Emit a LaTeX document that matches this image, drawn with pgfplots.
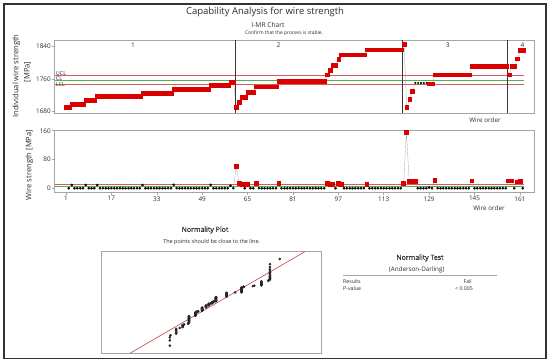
\documentclass[border=0pt]{standalone}
\usepackage{pgfplots}
\usepackage{pgfplotstable}
\pgfplotsset{compat=1.18}
\usepackage{fontspec}
\setmainfont{Open Sans}
\newfontface\sbf[FakeBold=0.6]{Open Sans}
\definecolor{mtred}{RGB}{218,0,0}
\definecolor{limred}{RGB}{205,95,95}
\definecolor{limgreen}{RGB}{85,175,85}
\definecolor{boxgray}{RGB}{165,165,165}
\definecolor{txt}{RGB}{45,45,45}
\definecolor{stagecol}{RGB}{55,55,55}
\definecolor{normline}{RGB}{190,70,70}
\newcommand{\fs}[1]{\fontsize{#1}{#1}\selectfont}

\pgfplotstableread[row sep=\\]{
obs ind ic mr mc\\
1 1690 r nan k\\ 2 1690 r 0 k\\ 3 1699 r 9 k\\ 4 1699 r 0 k\\ 5 1699 r 0 k\\ 6 1699 r 0 k\\ 7 1699 r 0 k\\
8 1708 r 9 k\\ 9 1708 r 0 k\\ 10 1708 r 0 k\\ 11 1708 r 0 k\\
12 1717 r 9 k\\ 13 1717 r 0 k\\ 14 1717 r 0 k\\ 15 1717 r 0 k\\ 16 1717 r 0 k\\ 17 1717 r 0 k\\ 18 1717 r 0 k\\ 19 1717 r 0 k\\
20 1717 r 0 k\\ 21 1717 r 0 k\\ 22 1717 r 0 k\\ 23 1717 r 0 k\\ 24 1717 r 0 k\\ 25 1717 r 0 k\\ 26 1717 r 0 k\\ 27 1717 r 0 k\\
28 1726 r 9 k\\ 29 1726 r 0 k\\ 30 1726 r 0 k\\ 31 1726 r 0 k\\ 32 1726 r 0 k\\ 33 1726 r 0 k\\ 34 1726 r 0 k\\ 35 1726 r 0 k\\
36 1726 r 0 k\\ 37 1726 r 0 k\\ 38 1726 r 0 k\\
39 1735.5 r 9.5 k\\ 40 1735.5 r 0 k\\ 41 1735.5 r 0 k\\ 42 1735.5 r 0 k\\ 43 1735.5 r 0 k\\ 44 1735.5 r 0 k\\ 45 1735.5 r 0 k\\
46 1735.5 r 0 k\\ 47 1735.5 r 0 k\\ 48 1735.5 r 0 k\\ 49 1735.5 r 0 k\\ 50 1735.5 r 0 k\\ 51 1735.5 r 0 k\\
52 1745 r 9.5 k\\ 53 1745 r 0 k\\ 54 1745 r 0 k\\ 55 1745 r 0 k\\ 56 1745 r 0 k\\ 57 1745 r 0 k\\ 58 1745 r 0 k\\
59 1752 r 7 k\\ 60 1752 r 0 k\\
61 1691 r 61 r\\ 62 1704 r 13 r\\ 63 1716 r 12 r\\ 64 1716 r 0 k\\ 65 1728 r 12 r\\ 66 1728 r 0 k\\ 67 1728 r 0 k\\
68 1741 r 13 r\\ 69 1741 r 0 k\\ 70 1741 r 0 k\\ 71 1741 r 0 k\\ 72 1741 r 0 k\\ 73 1741 r 0 k\\ 74 1741 r 0 k\\ 75 1741 r 0 k\\
76 1755 r 14 r\\ 77 1755 r 0 k\\ 78 1755 r 0 k\\ 79 1755 r 0 k\\ 80 1755 r 0 k\\ 81 1755 r 0 k\\ 82 1755 r 0 k\\ 83 1755 r 0 k\\
84 1755 r 0 k\\ 85 1755 r 0 k\\ 86 1755 r 0 k\\ 87 1755 r 0 k\\ 88 1755 r 0 k\\ 89 1755 r 0 k\\ 90 1755 r 0 k\\ 91 1755 r 0 k\\ 92 1755 r 0 k\\
93 1770 r 15 r\\ 94 1782 r 12 r\\ 95 1794 r 12 r\\ 96 1794 r 0 k\\ 97 1807 r 13 r\\
98 1819 r 12 r\\ 99 1819 r 0 k\\ 100 1819 r 0 k\\ 101 1819 r 0 k\\ 102 1819 r 0 k\\ 103 1819 r 0 k\\ 104 1819 r 0 k\\ 105 1819 r 0 k\\ 106 1819 r 0 k\\
107 1831 r 12 r\\ 108 1831 r 0 k\\ 109 1831 r 0 k\\ 110 1831 r 0 k\\ 111 1831 r 0 k\\ 112 1831 r 0 k\\ 113 1831 r 0 k\\
114 1831 r 0 k\\ 115 1831 r 0 k\\ 116 1831 r 0 k\\ 117 1831 r 0 k\\ 118 1831 r 0 k\\ 119 1831 r 0 k\\
120 1845 r 14 r\\ 121 1690 r 155 r\\ 122 1710 r 20 r\\ 123 1730 r 20 r\\
124 1750 k 20 r\\ 125 1750 k 0 k\\ 126 1750 k 0 k\\ 127 1750 k 0 k\\ 128 1750 k 0 k\\ 129 1748 r 2 k\\ 130 1748 r 0 k\\
131 1770 r 22 r\\ 132 1770 r 0 k\\ 133 1770 r 0 k\\ 134 1770 r 0 k\\ 135 1770 r 0 k\\ 136 1770 r 0 k\\ 137 1770 r 0 k\\
138 1770 r 0 k\\ 139 1770 r 0 k\\ 140 1770 r 0 k\\ 141 1770 r 0 k\\ 142 1770 r 0 k\\ 143 1770 r 0 k\\
144 1791 r 21 r\\ 145 1791 r 0 k\\ 146 1791 r 0 k\\ 147 1791 r 0 k\\ 148 1791 r 0 k\\ 149 1791 r 0 k\\ 150 1791 r 0 k\\
151 1791 r 0 k\\ 152 1791 r 0 k\\ 153 1791 r 0 k\\ 154 1791 r 0 k\\ 155 1791 r 0 k\\ 156 1791 r 0 k\\
157 1770 r 21 r\\ 158 1791 r 21 r\\ 159 1791 r 0 k\\ 160 1809 r 18 r\\ 161 1829 r 20 r\\ 162 1829 r 0 k\\
}\imr

\pgfplotstableread[row sep=\\]{
v z\\
1690 -2.626\\ 1690 -2.309\\ 1690 -2.129\\ 1691 -2.000\\
1699 -1.897\\ 1699 -1.810\\ 1699 -1.736\\ 1699 -1.670\\ 1699 -1.611\\
1704 -1.557\\ 1708 -1.507\\ 1708 -1.461\\ 1708 -1.418\\ 1708 -1.377\\ 1710 -1.338\\ 1716 -1.301\\ 1716 -1.266\\
1717 -1.232\\ 1717 -1.199\\ 1717 -1.168\\ 1717 -1.138\\ 1717 -1.109\\ 1717 -1.081\\ 1717 -1.054\\ 1717 -1.027\\
1717 -1.002\\ 1717 -0.977\\ 1717 -0.952\\ 1717 -0.928\\ 1717 -0.904\\ 1717 -0.881\\ 1717 -0.859\\ 1717 -0.837\\
1726 -0.815\\ 1726 -0.794\\ 1726 -0.773\\ 1726 -0.752\\ 1726 -0.732\\ 1726 -0.712\\ 1726 -0.692\\ 1726 -0.673\\
1726 -0.653\\ 1726 -0.634\\ 1726 -0.615\\
1728 -0.597\\ 1728 -0.579\\ 1728 -0.560\\ 1730 -0.543\\
1735.5 -0.525\\ 1735.5 -0.507\\ 1735.5 -0.490\\ 1735.5 -0.473\\ 1735.5 -0.455\\ 1735.5 -0.438\\ 1735.5 -0.421\\
1735.5 -0.405\\ 1735.5 -0.388\\ 1735.5 -0.371\\ 1735.5 -0.355\\ 1735.5 -0.338\\ 1735.5 -0.322\\
1741 -0.306\\ 1741 -0.289\\ 1741 -0.273\\ 1741 -0.257\\ 1741 -0.241\\ 1741 -0.225\\ 1741 -0.210\\ 1741 -0.194\\
1745 -0.178\\ 1745 -0.163\\ 1745 -0.147\\ 1745 -0.132\\ 1745 -0.116\\ 1745 -0.101\\ 1745 -0.085\\
1748 -0.070\\ 1748 -0.054\\
1750 -0.039\\ 1750 -0.023\\ 1750 -0.008\\ 1750 0.008\\ 1750 0.023\\ 1752 0.039\\ 1752 0.054\\
1755 0.070\\ 1755 0.085\\ 1755 0.101\\ 1755 0.116\\ 1755 0.132\\ 1755 0.147\\ 1755 0.163\\ 1755 0.178\\ 1755 0.194\\
1755 0.210\\ 1755 0.225\\ 1755 0.241\\ 1755 0.257\\ 1755 0.273\\ 1755 0.289\\ 1755 0.306\\ 1755 0.322\\
1770 0.338\\ 1770 0.355\\ 1770 0.371\\ 1770 0.388\\ 1770 0.405\\ 1770 0.421\\ 1770 0.438\\ 1770 0.455\\
1770 0.473\\ 1770 0.490\\ 1770 0.507\\ 1770 0.525\\ 1770 0.543\\ 1770 0.560\\ 1770 0.579\\
1782 0.597\\
1791 0.615\\ 1791 0.634\\ 1791 0.653\\ 1791 0.673\\ 1791 0.692\\ 1791 0.712\\ 1791 0.732\\ 1791 0.752\\
1791 0.773\\ 1791 0.794\\ 1791 0.815\\ 1791 0.837\\ 1791 0.859\\ 1791 0.881\\ 1791 0.904\\
1794 0.928\\ 1794 0.952\\ 1807 0.977\\ 1809 1.002\\
1819 1.027\\ 1819 1.054\\ 1819 1.081\\ 1819 1.109\\ 1819 1.138\\ 1819 1.168\\ 1819 1.199\\ 1819 1.232\\ 1819 1.266\\
1829 1.301\\ 1829 1.338\\
1831 1.377\\ 1831 1.418\\ 1831 1.461\\ 1831 1.507\\ 1831 1.557\\ 1831 1.611\\ 1831 1.670\\ 1831 1.736\\
1831 1.810\\ 1831 1.897\\ 1831 2.000\\ 1831 2.129\\ 1831 2.309\\
1845 2.626\\
}\norm

\pgfplotsset{
  mtaxis/.style={
    scale only axis, anchor=south west,
    axis line style={draw=boxgray, line width=0.8pt},
    tick style={draw=boxgray, line width=0.5pt},
    tick align=outside, major tick length=2.5pt,
    xtick pos=bottom, ytick pos=left,
    ticklabel style={font=\fs{6.4}, text=txt, inner sep=1pt},
    /pgf/number format/assume math mode=true,
    /pgf/number format/1000 sep={},
    xmin=-3.05, xmax=165.97,
  },
  imrpts/.style={scatter, only marks, scatter src=explicit symbolic,
    scatter/classes={
      r={mark=square*, mark size=1.9pt, draw=mtred, fill=mtred},
      k={mark=*, mark size=#1, draw=black, fill=black}}},
}

\begin{document}
\begin{tikzpicture}[x=1pt,y=1pt]
\path (0pt,0pt) rectangle (550pt,363pt);
\draw[line width=1.3pt, draw=black!80] (4pt,4.5pt) rectangle (546pt,359pt);

% titles
\node[font=\fs{9.5}, text=txt] at (265pt,351pt) {Capability Analysis for wire strength};
\node[font=\fs{6.7}, text=txt] at (268pt,338pt) {I-MR Chart};
\node[font=\fs{4.9}, text=txt] at (284pt,329.5pt) {Confirm that the process is stable.};

% I chart
\begin{axis}[mtaxis, at={(54.5pt,249.5pt)}, width=480pt, height=73.5pt,
  ymin=1675.6, ymax=1854.7, ytick={1680,1760,1840}, xtick=\empty]
\addplot[draw=gray!60, line width=0.35pt] table[x=obs,y=ind]{\imr};
\addplot[limred, line width=0.7pt] coordinates {(-2.8,1767.5) (162.4,1767.5)};
\addplot[limgreen, line width=0.7pt] coordinates {(-2.8,1757.5) (162.4,1757.5)};
\addplot[limred, line width=0.7pt] coordinates {(-2.8,1746.5) (162.4,1746.5)};
\addplot[stagecol, line width=0.9pt] coordinates {(60.5,1675.6) (60.5,1854.7)};
\addplot[stagecol, line width=0.9pt] coordinates {(119.5,1675.6) (119.5,1854.7)};
\addplot[stagecol, line width=0.9pt] coordinates {(156.5,1675.6) (156.5,1854.7)};
\addplot[imrpts=0.8pt] table[x=obs, y=ind, meta=ic]{\imr};
\node[font=\fs{6.5}, text=txt] at (axis cs:24.6,1842) {1};
\node[font=\fs{6.5}, text=txt] at (axis cs:75.8,1842) {2};
\node[font=\fs{6.5}, text=txt] at (axis cs:135.4,1842) {3};
\node[font=\fs{6.5}, text=txt] at (axis cs:161.7,1842) {4};
\node[font=\fs{5.5}, text=txt, anchor=west, inner sep=0pt] at (axis cs:-2.6,1773.7) {UCL};
\node[font=\fs{5.5}, text=txt, anchor=west, inner sep=0pt] at (axis cs:-2.6,1761.5) {CL};
\node[font=\fs{5.5}, text=txt, anchor=west, inner sep=0pt] at (axis cs:-2.6,1746.8) {LCL};
\end{axis}
\node[font=\fs{6.3}, text=txt] at (485pt,243pt) {Wire order};
\node[font=\fs{7.6}, text=txt, rotate=90] at (16.5pt,287pt) {Individual wire strength};
\node[font=\fs{7.6}, text=txt, rotate=90] at (27.5pt,291pt) {[MPa]};

% MR chart
\begin{axis}[mtaxis, at={(54.5pt,170.3pt)}, width=479.5pt, height=62.7pt,
  ymin=-12.4, ymax=162, ytick={0,80,160}, xtick={1,17,...,161}]
\addplot[draw=gray!60, line width=0.35pt] table[x=obs,y=mr]{\imr};
\addplot[limred, line width=0.7pt] coordinates {(-2.8,10.2) (162.4,10.2)};
\addplot[limgreen, line width=0.7pt] coordinates {(-2.8,4.5) (162.4,4.5)};
\addplot[imrpts=1.1pt] table[x=obs, y=mr, meta=mc]{\imr};
\end{axis}
\node[font=\fs{6.3}, text=txt] at (489pt,155pt) {Wire order};
\node[font=\fs{7.6}, text=txt, rotate=90] at (29.5pt,198pt) {Wire strength [MPa]};

% Normality plot
\node[font=\sbf\fs{7}, text=txt] at (205pt,133pt) {Normality Plot};
\node[font=\fs{5.5}, text=txt] at (211.7pt,121.3pt) {The points should be close to the line.};
\begin{axis}[scale only axis, anchor=south west, at={(101.7pt,9.7pt)}, width=219.3pt, height=101.6pt,
  xmin=1594, xmax=1903, ymin=-3.09, ymax=3.07, xtick=\empty, ytick=\empty,
  axis line style={draw=boxgray, line width=0.8pt}]
\addplot[normline, line width=0.6pt] coordinates {(1633.8,-3.09) (1880.2,3.07)};
\addplot[only marks, mark=*, mark size=1.1pt, draw=black!85, fill=black!85] table[x=v,y=z]{\norm};
\end{axis}

% Normality test
\node[font=\sbf\fs{7}, text=txt] at (420pt,105pt) {Normality Test};
\node[font=\fs{6.3}, text=txt] at (416.7pt,93pt) {(Anderson-Darling)};
\draw[boxgray, line width=0.7pt] (343pt,88pt) -- (497pt,88pt);
\node[font=\fs{5.2}, text=txt, anchor=west, inner sep=0pt] at (343pt,81pt) {Results};
\node[font=\fs{5.2}, text=txt, anchor=east, inner sep=0pt] at (472pt,81pt) {Fail};
\node[font=\fs{5.2}, text=txt, anchor=west, inner sep=0pt] at (343pt,74pt) {P-value};
\node[font=\fs{5.2}, text=txt, anchor=east, inner sep=0pt] at (473pt,74pt) {< 0.005};
\end{tikzpicture}
\end{document}
